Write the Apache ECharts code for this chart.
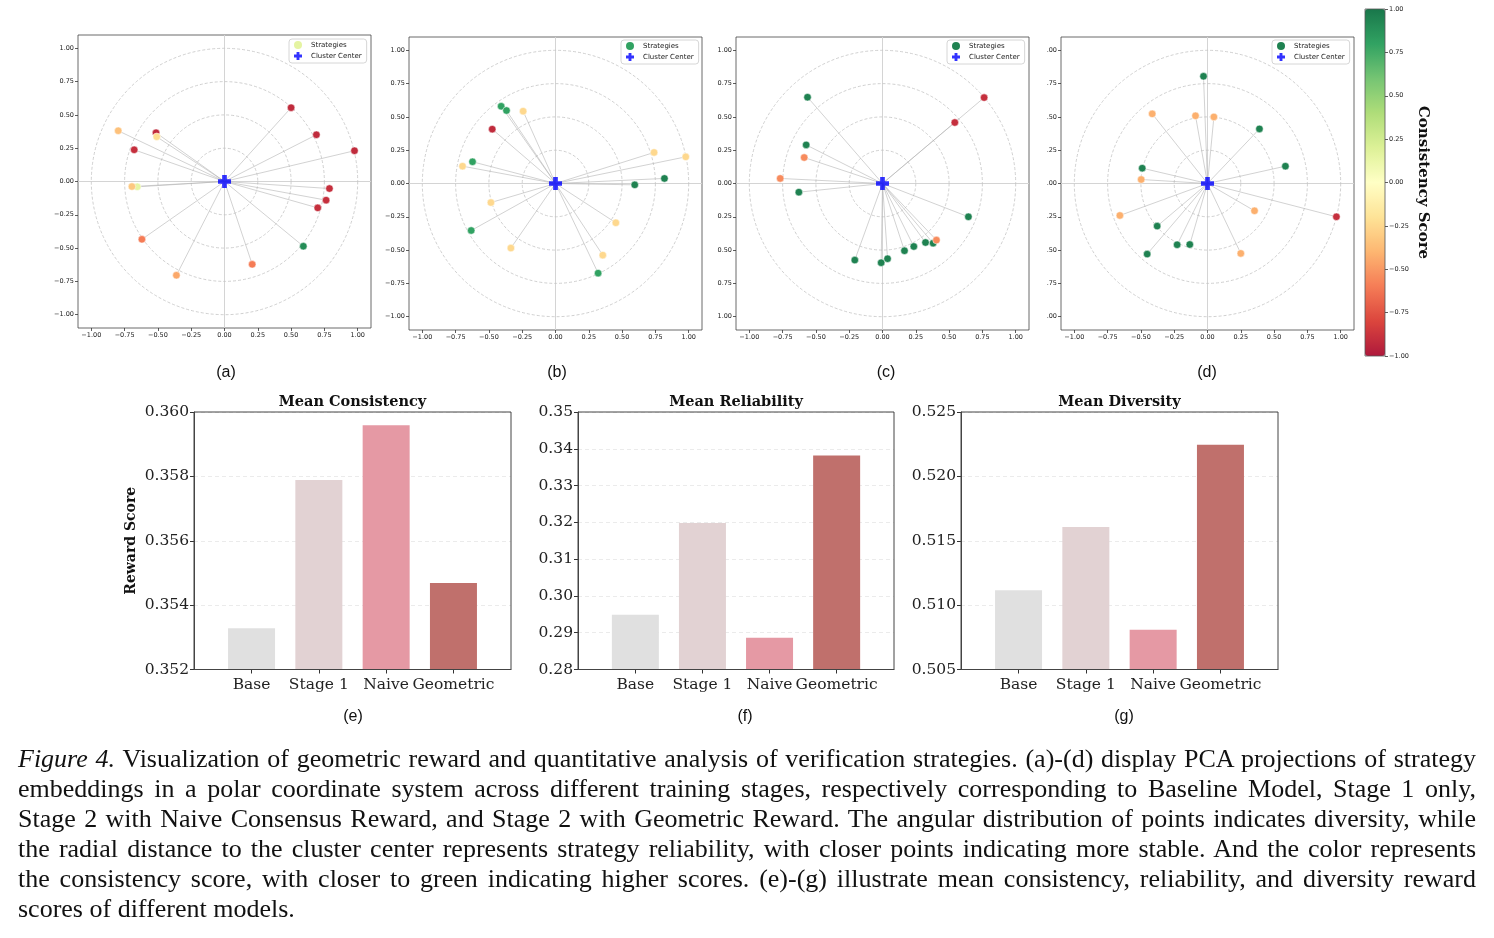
<!DOCTYPE html>
<html><head><meta charset="utf-8">
<script src="https://cdn.jsdelivr.net/npm/echarts@6/dist/echarts.min.js"></script>
<style>
html,body{margin:0;padding:0;background:#fff;}
#chart{position:absolute;left:0;top:0;width:1494px;height:938px;}
#cap{position:absolute;left:18px;top:744px;width:1458px;font-family:'Liberation Serif','Times New Roman',serif;font-size:26px;line-height:30px;color:#111;}
#cap div{text-align:justify;text-align-last:justify;white-space:nowrap;}
#cap div.last{text-align-last:left;}
</style></head><body>
<div id="chart"></div>
<div id="cap">
<div><i>Figure 4.</i> Visualization of geometric reward and quantitative analysis of verification strategies. (a)-(d) display PCA projections of strategy</div>
<div>embeddings in a polar coordinate system across different training stages, respectively corresponding to Baseline Model, Stage 1 only,</div>
<div>Stage 2 with Naive Consensus Reward, and Stage 2 with Geometric Reward. The angular distribution of points indicates diversity, while</div>
<div>the radial distance to the cluster center represents strategy reliability, with closer points indicating more stable. And the color represents</div>
<div>the consistency score, with closer to green indicating higher scores. (e)-(g) illustrate mean consistency, reliability, and diversity reward</div>
<div class="last">scores of different models.</div>
</div>
<script>
// ---------- data ----------
const axisTicks = [-1, -0.75, -0.5, -0.25, 0, 0.25, 0.5, 0.75, 1];
const ringRadii = [0.25, 0.5, 0.75, 1.0];
const clusterCenter = [0, 0];
// [x, y, consistency score]
const pointsA = [
  [-0.655,-0.040,0.15],[0.500,0.554,-0.92],[0.690,0.351,-0.92],[0.976,0.231,-0.92],
  [0.788,-0.053,-0.90],[0.763,-0.140,-0.90],[0.700,-0.198,-0.90],[0.592,-0.486,0.90],
  [0.208,-0.622,-0.60],[-0.361,-0.704,-0.45],[-0.620,-0.434,-0.60],[-0.695,-0.038,-0.32],
  [-0.798,0.381,-0.35],[-0.678,0.238,-0.90],[-0.514,0.366,-0.92],[-0.509,0.336,-0.22]
];
const pointsB = [
  [-0.408,0.580,0.80],[-0.368,0.548,0.80],[-0.243,0.543,-0.25],[-0.475,0.408,-0.92],
  [-0.623,0.163,0.80],[-0.698,0.130,-0.25],[-0.485,-0.143,-0.25],[-0.633,-0.353,0.80],
  [-0.335,-0.485,-0.25],[0.320,-0.673,0.80],[0.355,-0.538,-0.25],[0.453,-0.295,-0.25],
  [0.595,-0.010,0.95],[0.818,0.038,0.95],[0.740,0.233,-0.25],[0.978,0.200,-0.25]
];
const pointsC = [
  [-0.563,0.648,0.95],[-0.573,0.290,0.95],[-0.588,0.195,-0.55],[-0.768,0.038,-0.55],
  [-0.628,-0.065,0.95],[-0.208,-0.575,0.95],[-0.010,-0.595,0.95],[0.038,-0.565,0.95],
  [0.165,-0.505,0.95],[0.235,-0.473,0.95],[0.323,-0.443,0.95],[0.380,-0.448,0.95],
  [0.405,-0.425,-0.55],[0.645,-0.250,0.95],[0.543,0.458,-0.90],[0.763,0.645,-0.90]
];
const pointsD = [
  [-0.030,0.805,0.95],[-0.415,0.523,-0.42],[-0.090,0.508,-0.42],[0.048,0.500,-0.42],
  [0.390,0.410,0.95],[0.585,0.130,0.95],[-0.490,0.115,0.95],[-0.498,0.030,-0.42],
  [-0.658,-0.240,-0.42],[-0.378,-0.320,0.95],[-0.453,-0.530,0.95],[-0.228,-0.460,0.95],
  [-0.133,-0.458,0.95],[0.353,-0.205,-0.42],[0.250,-0.525,-0.42],[0.968,-0.250,-0.90]
];
const panelLabels = ['(a)','(b)','(c)','(d)'];
const barCategories = ['Base','Stage 1','Naive','Geometric'];
const meanConsistency = [0.35328, 0.35789, 0.35959, 0.35469];
const meanReliability = [0.2949, 0.3198, 0.2886, 0.3382];
const meanDiversity = [0.51116, 0.51607, 0.50808, 0.52246];
const barTitles = ['Mean Consistency','Mean Reliability','Mean Diversity'];
const barLabels = ['(e)','(f)','(g)'];
const barColors = ['#e0e0e0','#e2d2d3','#e599a4','#c0706c'];

// ---------- styling helpers ----------
const rdylgn = ['#a50026','#d73027','#f46d43','#fdae61','#fee08b','#ffffbf','#d9ef8b','#a6d96a','#66bd63','#1a9850','#006837'];
function blend(hex, a){
  const n = parseInt(hex.slice(1),16), r=(n>>16)&255, g=(n>>8)&255, b=n&255;
  const f = c => Math.round(c*a + 255*(1-a));
  return 'rgb(' + f(r) + ',' + f(g) + ',' + f(b) + ')';
}
const palette = rdylgn.map(c => blend(c, 0.9));
function cmap(v){
  const t = Math.max(0, Math.min(1, (v+1)/2)) * (rdylgn.length-1);
  const i = Math.min(Math.floor(t), rdylgn.length-2), f = t - i;
  const p = h => { const n=parseInt(h.slice(1),16); return [(n>>16)&255,(n>>8)&255,n&255]; };
  const a = p(rdylgn[i]), b = p(rdylgn[i+1]);
  const c = a.map((x,k)=>Math.round((x+(b[k]-x)*f)*0.9 + 255*0.1));
  return 'rgb(' + c.join(',') + ')';
}
const minus = '\u2212';
const fmt2 = v => (v < 0 ? minus : '') + Math.abs(v).toFixed(2);
const plusPath = 'path://M32,0H68V32H100V68H68V100H32V68H0V32H32Z';
const sans = "'DejaVu Sans', sans-serif";
const serif = "'DejaVu Serif', serif";
const labelFont = "'Liberation Sans', Arial, sans-serif";

const polarPanels = [
  {pts: pointsA, left: 78,   top: 35, lgLeft: 289,  lgTop: 39, labX: 226,  yfmt: fmt2},
  {pts: pointsB, left: 409,  top: 37, lgLeft: 621,  lgTop: 40, labX: 557,  yfmt: fmt2},
  {pts: pointsC, left: 736,  top: 37, lgLeft: 947,  lgTop: 40, labX: 886,  yfmt: v => Math.abs(v).toFixed(2)},
  {pts: pointsD, left: 1061, top: 37, lgLeft: 1272, lgTop: 40, labX: 1207, yfmt: v => Math.abs(v).toFixed(2).slice(1)}
];
const barPanels = [
  {vals: meanConsistency, left: 194, width: 317, min: 0.352, max: 0.360, interval: 0.002, dec: 3, labX: 353},
  {vals: meanReliability, left: 578, width: 316, min: 0.28,  max: 0.35,  interval: 0.01,  dec: 2, labX: 745},
  {vals: meanDiversity,   left: 961, width: 317, min: 0.505, max: 0.525, interval: 0.005, dec: 3, labX: 1124}
];

const grid = [], xAxis = [], yAxis = [], series = [], legend = [], title = [];
const scatterIdx = [];

polarPanels.forEach((p, i) => {
  grid.push({left: p.left, top: p.top, width: 293, height: 293, show: true, borderColor: '#444', borderWidth: 0.8, backgroundColor: '#fff'});
  const ax = (fmt) => ({
    gridIndex: i, type: 'value', min: -1.1, max: 1.1,
    axisLine: {show: false, onZero: false}, splitLine: {show: false},
    axisTick: {show: true, customValues: axisTicks, length: 3, lineStyle: {color: '#333', width: 0.8}},
    axisLabel: {customValues: axisTicks, formatter: fmt, fontSize: 6.5, color: '#222', fontFamily: sans, margin: 4}
  });
  xAxis.push(Object.assign(ax(fmt2), {position: 'bottom'}));
  yAxis.push(Object.assign(ax(p.yfmt), {position: 'left'}));
  series.push({
    type: 'custom', xAxisIndex: i, yAxisIndex: i, silent: true, z: 1,
    data: ringRadii.map(r => [r, 0]),
    renderItem: (params, api) => {
      const c = api.coord(clusterCenter);
      const r = api.size([api.value(0), 0])[0];
      return {type: 'circle', shape: {cx: c[0], cy: c[1], r: r},
        style: {fill: 'none', stroke: '#c4c4c4', lineWidth: 0.8, lineDash: [3, 2]}};
    },
    markLine: {silent: true, symbol: 'none', label: {show: false}, z: 1,
      lineStyle: {color: '#d4d4d4', width: 1, type: 'solid'},
      data: [{xAxis: 0}, {yAxis: 0}]}
  });
  series.push({
    type: 'lines', coordinateSystem: 'cartesian2d', xAxisIndex: i, yAxisIndex: i, silent: true, z: 2,
    data: p.pts.map(pt => ({coords: [clusterCenter, [pt[0], pt[1]]]})),
    lineStyle: {color: '#b4b4b4', width: 0.8, opacity: 0.75}
  });
  scatterIdx.push(series.length);
  series.push({
    name: 'Strategies', type: 'scatter', xAxisIndex: i, yAxisIndex: i, z: 6,
    data: p.pts, symbolSize: 7.5,
    itemStyle: {borderColor: '#fff', borderWidth: 0.5, opacity: 1}
  });
  series.push({
    name: 'Cluster Center', type: 'scatter', xAxisIndex: i, yAxisIndex: i, z: 7,
    data: [clusterCenter], symbol: plusPath, symbolSize: 13,
    itemStyle: {color: '#0000ff', borderWidth: 0}
  });
  legend.push({
    left: p.lgLeft, top: p.lgTop, orient: 'vertical', selectedMode: false, z: 8,
    padding: [2, 5, 3, 5], itemGap: 3, itemWidth: 12, itemHeight: 8,
    backgroundColor: 'rgba(255,255,255,0.85)', borderColor: '#cccccc', borderWidth: 0.8, borderRadius: 3,
    textStyle: {fontSize: 7, fontFamily: sans, color: '#222', padding: [0, 0, 0, 2]},
    data: [
      {name: 'Strategies', icon: 'circle', itemStyle: {color: cmap(p.pts[0][2]), borderWidth: 0}},
      {name: 'Cluster Center', icon: plusPath, itemStyle: {color: '#0000ff', borderWidth: 0}}
    ]
  });
  title.push({text: panelLabels[i], left: p.labX, top: 365, textAlign: 'center', padding: 0,
    textStyle: {fontSize: 16, fontWeight: 'normal', fontFamily: labelFont, color: '#111'}});
});

// colorbar grid (index 4)
grid.push({left: 1365, top: 9, width: 20, height: 347, show: true, borderColor: '#555', borderWidth: 0.8, z: 6});
xAxis.push({gridIndex: 4, type: 'value', min: 0, max: 1, show: false});
yAxis.push({gridIndex: 4, type: 'value', min: -1, max: 1, interval: 0.25, position: 'right',
  axisLine: {show: false, onZero: false}, splitLine: {show: false},
  axisTick: {show: true, length: 3, lineStyle: {color: '#333', width: 0.8}},
  axisLabel: {formatter: fmt2, fontSize: 6.5, color: '#222', fontFamily: sans, margin: 4},
  name: 'Consistency Score', nameLocation: 'middle', nameRotate: -90, nameGap: 30,
  nameTextStyle: {fontFamily: serif, fontWeight: 'bold', fontSize: 15, color: '#111'}
});

// bar charts (indices 5..7)
barPanels.forEach((b, k) => {
  const gi = 5 + k;
  grid.push({left: b.left, top: 412, width: b.width, height: 257.5, show: true, borderColor: '#444', borderWidth: 1, z: 3});
  xAxis.push({gridIndex: gi, type: 'value', min: -0.855, max: 3.855, position: 'bottom',
    axisLine: {show: true, onZero: false, lineStyle: {color: '#444', width: 1}}, splitLine: {show: false},
    axisTick: {show: true, customValues: [0, 1, 2, 3], length: 4, lineStyle: {color: '#333'}},
    axisLabel: {customValues: [0, 1, 2, 3], formatter: v => barCategories[Math.round(v)],
      fontFamily: serif, fontSize: 15.5, color: '#222', margin: 7}
  });
  yAxis.push({gridIndex: gi, type: 'value', min: b.min, max: b.max, interval: b.interval, position: 'left',
    axisLine: {show: true, onZero: false, lineStyle: {color: '#444', width: 1}},
    splitLine: {show: true, lineStyle: {color: '#e6e6e6', width: 0.8, type: [4, 3]}},
    axisTick: {show: true, length: 4, lineStyle: {color: '#333'}},
    axisLabel: {formatter: v => v.toFixed(b.dec), fontFamily: serif, fontSize: 15.5, color: '#222', margin: 5},
    name: k === 0 ? 'Reward Score' : '', nameLocation: 'middle', nameGap: 56,
    nameTextStyle: {fontFamily: serif, fontWeight: 'bold', fontSize: 14, color: '#111'}
  });
  series.push({
    type: 'bar', xAxisIndex: gi, yAxisIndex: gi, barWidth: 47, clip: true,
    data: b.vals.map((v, j) => ({value: [j, v], itemStyle: {color: barColors[j]}}))
  });
  title.push({text: barTitles[k], left: b.left + b.width / 2, top: 395, textAlign: 'center', padding: 0,
    textStyle: {fontFamily: serif, fontWeight: 'bold', fontSize: 14.5, color: '#111'}});
  title.push({text: barLabels[k], left: b.labX, top: 709, textAlign: 'center', padding: 0,
    textStyle: {fontSize: 16, fontWeight: 'normal', fontFamily: labelFont, color: '#111'}});
});

const option = {
  animation: false,
  backgroundColor: '#fff',
  title: title,
  grid: grid, xAxis: xAxis, yAxis: yAxis,
  legend: legend,
  visualMap: {
    type: 'continuous', min: -1, max: 1, dimension: 2, seriesIndex: scatterIdx,
    left: 1365, top: 9, itemWidth: 20, itemHeight: 347, padding: 0,
    calculable: false, z: 4, hoverLink: false,
    inRange: {color: palette}
  },
  series: series
};
const chart = echarts.init(document.getElementById('chart'), null, {renderer: 'canvas'});
chart.setOption(option);
</script>
</body></html>
